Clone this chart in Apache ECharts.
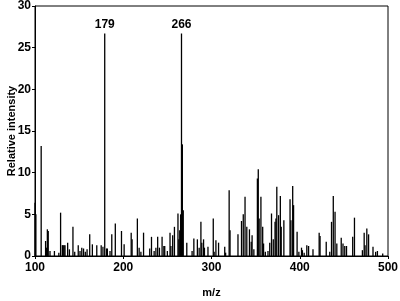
<!DOCTYPE html>
<html>
<head>
<meta charset="utf-8">
<script src="https://cdn.jsdelivr.net/npm/echarts@6/dist/echarts.min.js"></script>
<style>html,body{margin:0;padding:0;background:#fff}#c{width:400px;height:301px}</style>
</head>
<body>
<div id="c"></div>
<script>
var mz = [100,101,107,112,113,114,115,117,122,127,129,131,132,133,134,137,139,143,145,149,151,153,155,157,159,162,165,170,175,177,179,181,182,185,187,191,198,201,209,210,216,218,220,223,230,232,235,237,239,241,244,246,247,250,253,254,256,258,262,263,264,265,266,267,268,272,278,280,284,286,288,289,291,292,296,302,303,305,308,315,316,320,321,330,334,336,338,340,343,345,346,348,352,353,354,356,358,359,361,364,366,368,370,372,373,374,376,378,379,382,389,390,392,393,397,399,402,403,405,408,410,415,422,423,430,434,436,438,440,442,447,449,451,453,460,462,471,473,474,476,478,483,486,488,494];
var intensity = [6.4,5.0,13.2,1.8,1.0,3.2,3.0,0.6,0.6,0.4,5.2,1.3,1.3,1.3,1.3,1.6,0.8,3.5,0.5,1.3,0.6,1.0,0.9,0.5,0.8,2.6,1.4,1.3,1.3,1.1,26.7,0.9,0.9,0.6,2.6,3.9,3.0,1.4,2.8,2.0,4.5,1.0,0.5,2.8,0.9,2.3,0.6,1.0,2.3,1.0,2.3,1.2,1.2,0.6,2.8,1.2,2.5,3.5,5.1,2.0,3.1,5.0,26.7,13.4,5.5,1.6,0.6,2.1,2.0,1.0,4.1,1.6,2.0,1.0,1.1,4.5,0.5,1.9,1.6,1.1,0.4,7.9,3.1,2.6,4.2,5.0,7.1,3.5,3.2,1.7,2.5,0.8,9.3,10.4,4.5,7.1,3.5,1.5,0.5,0.6,1.6,5.1,2.0,4.1,4.5,8.3,4.9,7.2,3.5,4.3,6.8,4.3,8.4,6.1,2.9,0.5,1.0,0.7,0.4,1.3,1.2,0.8,2.8,2.4,1.7,0.5,4.1,7.2,5.3,1.5,2.2,1.5,1.2,1.2,2.3,4.6,0.7,2.8,1.3,3.3,2.6,1.1,0.5,0.6,0.3];
var labelledPeaks = [179, 266];
var xTicks = [100, 200, 300, 400, 500];
var yTicks = [0, 5, 10, 15, 20, 25, 30];

var font = 'Liberation Sans, Arial, sans-serif';
var data = mz.map(function (m, i) {
  var item = { value: [m, intensity[i]] };
  if (labelledPeaks.indexOf(m) >= 0) {
    item.label = { show: true, position: 'top', formatter: String(m), color: '#000',
      fontFamily: font, fontWeight: 'bold', fontSize: 12, distance: 3 };
  }
  return item;
});

var chart = echarts.init(document.getElementById('c'), null, { renderer: 'canvas' });
chart.setOption({
  animation: false,
  backgroundColor: '#fff',
  grid: { left: 35, right: 12, top: 6, bottom: 45, containLabel: false, outerBoundsMode: 'none',
    show: true, borderColor: '#000', borderWidth: 1, backgroundColor: 'transparent' },
  xAxis: {
    type: 'value', min: xTicks[0], max: xTicks[xTicks.length - 1], interval: 100,
    name: 'm/z', nameLocation: 'middle', nameGap: 31, nameMoveOverlap: false,
    nameTextStyle: { fontFamily: font, fontWeight: 'bold', fontSize: 11, color: '#000' },
    axisLine: { show: true, lineStyle: { color: '#000', width: 1 } },
    axisTick: { show: true, length: 3, lineStyle: { color: '#000' } },
    axisLabel: { fontFamily: font, fontWeight: 'bold', fontSize: 12, color: '#000', margin: 6 },
    splitLine: { show: false }
  },
  yAxis: {
    type: 'value', min: yTicks[0], max: yTicks[yTicks.length - 1], interval: 5,
    name: 'Relative intensity', nameLocation: 'middle', nameGap: 18, nameRotate: 90, nameMoveOverlap: false,
    nameTextStyle: { fontFamily: font, fontWeight: 'bold', fontSize: 11, color: '#000' },
    axisLine: { show: true, lineStyle: { color: '#000', width: 1 } },
    axisTick: { show: true, length: 3, lineStyle: { color: '#000' } },
    axisLabel: { fontFamily: font, fontWeight: 'bold', fontSize: 12, color: '#000', margin: 4 },
    splitLine: { show: false }
  },
  series: [{
    type: 'bar',
    data: data,
    barWidth: 1.3,
    itemStyle: { color: '#000' },
    barGap: '-100%'
  }]
});
</script>
</body>
</html>
